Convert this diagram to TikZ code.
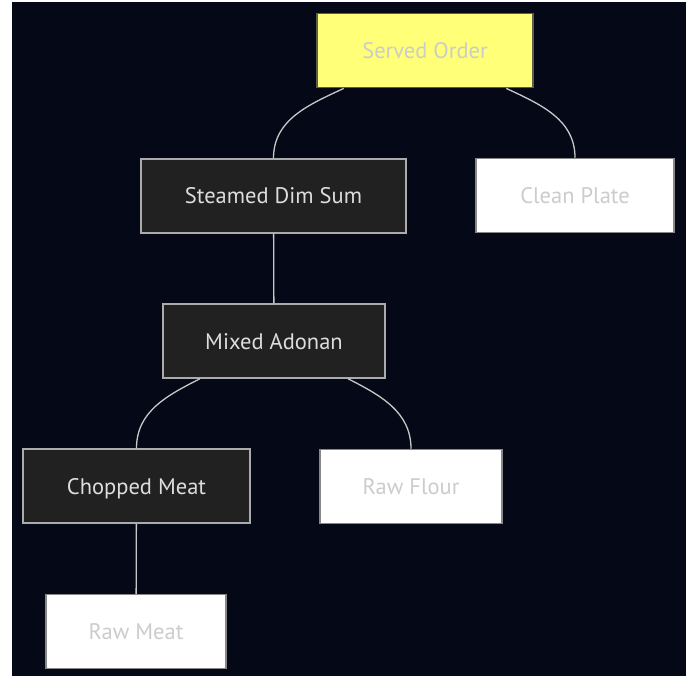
\documentclass[tikz,border=0pt]{standalone}
\usepackage{fontspec}
\setmainfont{PT Sans}
\usepackage{tikz}
\usetikzlibrary{positioning}
\definecolor{dsbg}{HTML}{040817}
\definecolor{dsdark}{HTML}{212121}
\definecolor{dsyellow}{HTML}{FFFF78}
\definecolor{dstext}{HTML}{CCCCCC}
\definecolor{dslight}{HTML}{DDDDDD}
\definecolor{dsedge}{HTML}{C8C8C8}
\definecolor{dsrim}{HTML}{5E5E4A}
\tikzset{
  dsbox/.style={draw=black!33, line width=1.5pt, fill=dsdark, text=dslight, minimum height=74pt, inner sep=0pt, text height=18pt, text depth=2pt, font=\fontsize{22.5}{27}\selectfont},
  dsleaf/.style={draw=black!47, line width=1.5pt, fill=white, text=dstext, minimum height=74pt, inner sep=0pt, text height=18pt, text depth=2pt, font=\fontsize{22.5}{27}\selectfont},
  dsroot/.style={draw=dsrim, line width=1.8pt, fill=dsyellow, text=dstext, minimum height=74pt, inner sep=0pt, text height=18pt, text depth=2pt, font=\fontsize{22.5}{27}\selectfont},
  dsline/.style={draw=dsedge, line width=1.3pt}
}

\begin{document}
\begin{tikzpicture}[x=1pt, y=1pt]
  \fill[white] (0,0) rectangle (691,-679);
  \fill[dsbg] (12,-2) rectangle (686,-676);
  \node[dsroot, minimum width=216pt] (so) at (425,-50.5) {Served Order};
  \node[dsbox, minimum width=265pt] (dim) at (273.5,-196) {Steamed Dim Sum};
  \node[dsleaf, minimum width=198pt] (pl) at (575,-195.5) {Clean Plate};
  \node[dsbox, minimum width=222pt] (mix) at (274,-341) {Mixed Adonan};
  \node[dsbox, minimum width=227pt] (chop) at (136.5,-486) {Chopped Meat};
  \node[dsleaf, minimum width=182pt] (flour) at (411,-486.5) {Raw Flour};
  \node[dsleaf, minimum width=180pt] (meat) at (136,-631.5) {Raw Meat};
  \draw[dsline] (so.205) to[out=205, in=90] (dim.north);
  \draw[dsline] (so.335) to[out=-25, in=90] (pl.north);
  \draw[dsline] (dim) -- (mix);
  \draw[dsline] (mix.207) to[out=207, in=90] (chop.north);
  \draw[dsline] (mix.333) to[out=-27, in=90] (flour.north);
  \draw[dsline] (chop) -- (meat);
\end{tikzpicture}
\end{document}
